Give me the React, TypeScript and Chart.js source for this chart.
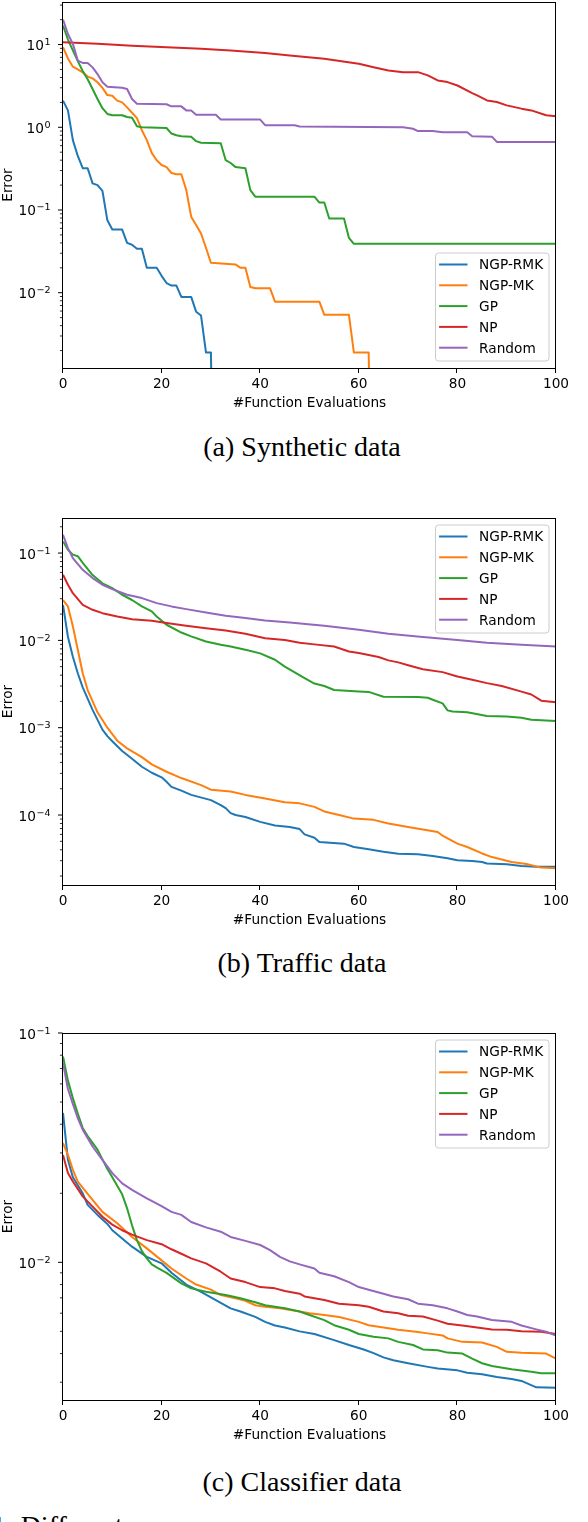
import React, { useEffect, useRef } from "react";
import { Chart, registerables } from "chart.js";

Chart.register(...registerables);

type Pt = [number, number];

const seriesNames = ["NGP-RMK", "NGP-MK", "GP", "NP", "Random"];
const seriesColors = ["#1f77b4", "#ff7f0e", "#2ca02c", "#d62728", "#9467bd"];
const xTickValues = [0, 20, 40, 60, 80, 100];
const xTitle = "#Function Evaluations";
const yTitle = "Error";

// (a) Synthetic data
const synthRmk: Pt[] = [
  [0, 2.1], [1, 1.6], [2, 0.7], [3, 0.45], [4, 0.32], [5, 0.32], [6, 0.21], [7, 0.2], [8, 0.17],
  [9, 0.075], [10, 0.058], [12, 0.058], [13, 0.04], [14, 0.038], [15, 0.034], [16, 0.034],
  [17, 0.02], [19, 0.02], [20, 0.016], [21, 0.0131], [22, 0.0122], [23, 0.0122], [24, 0.0089],
  [26, 0.0089], [27, 0.0059], [28, 0.0053], [29, 0.0019], [30, 0.0019], [31, 0.000001],
];
const synthMk: Pt[] = [
  [0, 9.3], [1, 6.8], [2, 5.4], [3, 5.0], [4, 4.6], [5, 4.1], [6, 3.9], [7, 3.5], [8, 3.0],
  [9, 2.45], [10, 2.4], [11, 2.1], [12, 2.0], [13, 1.74], [14, 1.5], [15, 1.29], [16, 0.92],
  [17, 0.7], [18, 0.49], [19, 0.4], [20, 0.35], [21, 0.33], [22, 0.28], [23, 0.27], [24, 0.27],
  [25, 0.175], [26, 0.083], [27, 0.066], [28, 0.052], [29, 0.035], [30, 0.023], [35, 0.022],
  [36, 0.02], [37, 0.02], [38, 0.0117], [39, 0.0113], [42, 0.0113], [43, 0.0078], [52, 0.0078],
  [53, 0.0054], [58, 0.0054], [59, 0.0019], [62, 0.0019], [63, 0.000001],
];
const synthGp: Pt[] = [
  [0, 17], [1, 11.5], [2, 8.5], [3, 6.3], [4, 4.8], [5, 3.8], [6, 2.9], [7, 2.2], [8, 1.7],
  [9, 1.45], [10, 1.4], [12, 1.4], [13, 1.33], [14, 1.3], [15, 1.03], [16, 1.0], [21, 0.98],
  [22, 0.84], [23, 0.8], [24, 0.78], [26, 0.77], [27, 0.68], [28, 0.65], [32, 0.64], [33, 0.4],
  [34, 0.37], [35, 0.33], [37, 0.32], [38, 0.174], [39, 0.145], [51, 0.145], [52, 0.123],
  [53, 0.123], [54, 0.079], [57, 0.079], [58, 0.046], [59, 0.039], [100, 0.039],
];
const synthNp: Pt[] = [
  [0, 10.7], [7, 10.2], [14, 9.7], [21, 9.3], [28, 8.9], [34, 8.5], [41, 7.9], [46, 7.36],
  [53, 6.73], [60, 5.85], [63, 5.33], [66, 4.87], [69, 4.64], [72, 4.64], [74, 4.24], [76, 3.68],
  [78, 3.52], [80, 3.2], [83, 2.59], [84, 2.43], [86, 2.11], [88, 2.02], [90, 1.84], [93, 1.68],
  [95, 1.6], [98, 1.4], [100, 1.36],
];
const synthRandom: Pt[] = [
  [0, 20], [1, 13.4], [2, 10.2], [3, 6.4], [4, 6.0], [5, 6.0], [6, 5.3], [7, 4.4], [8, 3.5],
  [9, 3.1], [12, 3.0], [13, 2.9], [14, 2.2], [15, 1.93], [21, 1.9], [22, 1.79], [24, 1.79],
  [25, 1.6], [26, 1.6], [27, 1.42], [31, 1.42], [32, 1.24], [40, 1.24], [41, 1.06], [47, 1.06],
  [48, 1.02], [69, 1.0], [71, 0.96], [72, 0.9], [75, 0.9], [77, 0.87], [82, 0.87], [83, 0.78],
  [87, 0.77], [88, 0.665], [100, 0.665],
];

// (b) Traffic data
const trafficRmk: Pt[] = [
  [0, 0.0255], [1, 0.011], [2, 0.0065], [3, 0.0042], [4, 0.0029], [6, 0.0016], [8, 0.00095],
  [9, 0.0008], [10, 0.0007], [12, 0.00054], [14, 0.00044], [16, 0.000357], [18, 0.000305],
  [20, 0.00027], [21, 0.00024], [22, 0.00021], [24, 0.00019], [26, 0.00017], [30, 0.000148],
  [32, 0.00013], [33, 0.00012], [34, 0.000105], [35, 0.0001], [37, 0.000095], [40, 0.0000835],
  [43, 0.000076], [46, 0.000073], [48, 0.000069], [49, 0.00006], [51, 0.000055], [52, 0.000049],
  [57, 0.000047], [59, 0.000043], [62, 0.0000405], [65, 0.000038], [68, 0.000036],
  [72, 0.0000355], [75, 0.000034], [78, 0.000032], [80, 0.0000304], [83, 0.0000297],
  [85, 0.000029], [86, 0.0000279], [90, 0.0000273], [93, 0.000026], [96, 0.0000255],
  [100, 0.0000255],
];
const trafficMk: Pt[] = [
  [0, 0.029], [1, 0.0245], [2, 0.0145], [3, 0.0078], [4, 0.0042], [5, 0.0027], [7, 0.0015],
  [9, 0.001], [11, 0.00071], [13, 0.00058], [16, 0.00046], [18, 0.00038], [21, 0.000313],
  [24, 0.000265], [28, 0.00022], [30, 0.000195], [34, 0.000186], [37, 0.00017], [41, 0.000155],
  [45, 0.00014], [48, 0.000136], [51, 0.000124], [53, 0.00011], [56, 0.0001], [59, 0.000091],
  [63, 0.000088], [66, 0.00008], [70, 0.000073], [73, 0.0000684], [76, 0.000064],
  [77, 0.000058], [80, 0.000047], [82, 0.000043], [85, 0.0000363], [87, 0.000033],
  [91, 0.000029], [94, 0.0000275], [97, 0.000025], [100, 0.0000245],
];
const trafficGp: Pt[] = [
  [0, 0.136], [1, 0.109], [2, 0.096], [3, 0.092], [4, 0.077], [6, 0.056], [8, 0.045],
  [10, 0.0397], [12, 0.0333], [14, 0.029], [16, 0.0245], [18, 0.0215], [19, 0.0188],
  [21, 0.0151], [24, 0.0123], [26, 0.0111], [29, 0.0097], [32, 0.0089], [34, 0.0085],
  [37, 0.0078], [40, 0.0071], [43, 0.006], [45, 0.005], [47, 0.0043], [49, 0.0037],
  [51, 0.0032], [53, 0.003], [55, 0.0027], [60, 0.0026], [62, 0.00257], [65, 0.00226],
  [72, 0.00224], [74, 0.0022], [75, 0.00209], [77, 0.0019], [78, 0.00158], [79, 0.00153],
  [82, 0.0015], [86, 0.00136], [90, 0.00134], [93, 0.0013], [95, 0.00123], [100, 0.00119],
];
const trafficNp: Pt[] = [
  [0, 0.0565], [1, 0.0433], [2, 0.0347], [4, 0.0255], [6, 0.0224], [8, 0.0205], [11, 0.0188],
  [14, 0.0175], [18, 0.0168], [21, 0.0158], [25, 0.0147], [29, 0.0138], [33, 0.013],
  [37, 0.0119], [41, 0.0106], [45, 0.0101], [48, 0.0094], [51, 0.009], [55, 0.0085],
  [58, 0.00745], [60, 0.00715], [64, 0.00645], [66, 0.0059], [68, 0.0056], [70, 0.0052],
  [73, 0.00468], [77, 0.00433], [80, 0.00385], [83, 0.00354], [86, 0.00324], [89, 0.003],
  [93, 0.00259], [95, 0.0024], [97, 0.00204], [100, 0.00196],
];
const trafficRandom: Pt[] = [
  [0, 0.162], [1, 0.114], [2, 0.0877], [4, 0.0643], [6, 0.0517], [8, 0.0433], [10, 0.0386],
  [13, 0.0333], [16, 0.0305], [19, 0.0267], [22, 0.0245], [25, 0.0228], [29, 0.0209],
  [33, 0.0191], [37, 0.018], [41, 0.0169], [46, 0.016], [53, 0.0147], [60, 0.0132],
  [66, 0.0119], [73, 0.0109], [80, 0.0101], [86, 0.0094], [93, 0.0089], [100, 0.0085],
];

// (c) Classifier data
const classRmk: Pt[] = [
  [0, 0.0448], [1, 0.028], [2, 0.0235], [4, 0.02], [5, 0.0178], [7, 0.0161], [9, 0.0147],
  [10, 0.0138], [12, 0.0127], [14, 0.0117], [17, 0.01057], [20, 0.0099], [22, 0.009],
  [25, 0.008], [28, 0.00744], [31, 0.00685], [34, 0.0063], [36, 0.0061], [39, 0.00578],
  [41, 0.0055], [43, 0.0053], [45, 0.0052], [48, 0.005], [51, 0.00487], [55, 0.00458],
  [58, 0.00436], [61, 0.00417], [63, 0.00402], [65, 0.00385], [67, 0.00374], [70, 0.00363],
  [74, 0.0035], [76, 0.00344], [80, 0.00338], [82, 0.0033], [85, 0.00325], [88, 0.00316],
  [91, 0.0031], [93, 0.00304], [96, 0.00285], [100, 0.00284],
];
const classMk: Pt[] = [
  [0, 0.0331], [1, 0.0294], [2, 0.0253], [3, 0.0225], [5, 0.0199], [8, 0.0166], [11, 0.0148],
  [14, 0.0129], [17, 0.0115], [20, 0.0102], [22, 0.0094], [25, 0.0085], [27, 0.008],
  [30, 0.0076], [32, 0.0072], [35, 0.00697], [37, 0.0068], [39, 0.0065], [41, 0.0064],
  [44, 0.0063], [48, 0.0061], [50, 0.006], [53, 0.00589], [56, 0.00578], [60, 0.0055],
  [62, 0.00532], [65, 0.0052], [68, 0.00508], [72, 0.00497], [74, 0.0049], [77, 0.0048],
  [78, 0.00466], [81, 0.0045], [85, 0.00447], [88, 0.00428], [90, 0.00407], [93, 0.00403],
  [98, 0.004], [100, 0.0038],
];
const classGp: Pt[] = [
  [0, 0.079], [1, 0.062], [2, 0.052], [3, 0.0445], [4, 0.0385], [5, 0.0355], [7, 0.031],
  [9, 0.0255], [10, 0.0235], [12, 0.0198], [13, 0.0172], [14, 0.0145], [15, 0.0125],
  [16, 0.0112], [17, 0.0104], [18, 0.0098], [19, 0.0095], [21, 0.009], [24, 0.0081],
  [26, 0.0077], [29, 0.00744], [33, 0.0072], [36, 0.00697], [39, 0.0067], [41, 0.0065],
  [45, 0.0063], [48, 0.0061], [50, 0.00589], [53, 0.0056], [55, 0.00532], [58, 0.00508],
  [60, 0.00487], [63, 0.00474], [66, 0.00466], [68, 0.0045], [71, 0.00436], [73, 0.00417],
  [76, 0.00414], [78, 0.00404], [81, 0.004], [83, 0.0038], [85, 0.00363], [87, 0.00353],
  [91, 0.00342], [95, 0.00333], [97, 0.00328], [100, 0.00328],
];
const classNp: Pt[] = [
  [0, 0.0294], [1, 0.0245], [2, 0.0225], [4, 0.0194], [6, 0.0175], [8, 0.0158], [10, 0.0146],
  [12, 0.0138], [14, 0.0132], [17, 0.0125], [20, 0.012], [22, 0.0114], [24, 0.0109],
  [26, 0.0104], [29, 0.0099], [32, 0.0091], [34, 0.0085], [37, 0.0082], [40, 0.0078],
  [43, 0.0077], [45, 0.0075], [48, 0.0073], [49, 0.0071], [53, 0.00685], [56, 0.0066],
  [60, 0.0065], [62, 0.0064], [65, 0.0061], [68, 0.006], [70, 0.00585], [73, 0.0058],
  [76, 0.00557], [78, 0.0054], [81, 0.0053], [84, 0.0052], [87, 0.0051], [90, 0.00508],
  [93, 0.005], [97, 0.00498], [100, 0.00487],
];
const classRandom: Pt[] = [
  [0, 0.074], [1, 0.057], [2, 0.049], [3, 0.0425], [4, 0.0379], [6, 0.032], [8, 0.028],
  [10, 0.0245], [12, 0.0221], [14, 0.0207], [17, 0.019], [20, 0.0176], [22, 0.0166],
  [24, 0.0161], [26, 0.015], [29, 0.0142], [32, 0.0136], [34, 0.0129], [37, 0.0124],
  [40, 0.0119], [42, 0.0113], [44, 0.01057], [46, 0.0101], [48, 0.0098], [51, 0.0094],
  [52, 0.009], [55, 0.0087], [58, 0.0082], [60, 0.0078], [62, 0.0076], [65, 0.0073],
  [67, 0.0071], [70, 0.0069], [72, 0.0066], [75, 0.0065], [78, 0.0063], [80, 0.0061],
  [82, 0.00589], [84, 0.0058], [87, 0.0056], [91, 0.0055], [93, 0.0053], [96, 0.0051],
  [98, 0.00498], [100, 0.00479],
];

const panelSeries: Pt[][][] = [
  [synthRmk, synthMk, synthGp, synthNp, synthRandom],
  [trafficRmk, trafficMk, trafficGp, trafficNp, trafficRandom],
  [classRmk, classMk, classGp, classNp, classRandom],
];
const panelCaptions = ["(a) Synthetic data", "(b) Traffic data", "(c) Classifier data"];
const panelYMin = [0.00123, 0.0000158, 0.00251];
const panelYMax = [32.7, 0.252, 0.1];

// layout (pixels)
const PAGE_W = 588;
const PAGE_H = 1522;
const PLOT_LEFT = 63;
const PLOT_RIGHT = 556;
const panelPlotTop = [2, 518, 1033];
const panelPlotBottom = [368, 885, 1400];
const panelLegendAtTop = [false, true, true];
const panelCaptionBaseline = [456, 972, 1491];
const X_AXIS_H = 50;
const TOP_PAD = 12;
const FS = 13.7;
const SANS = "'DejaVu Sans', sans-serif";
const SERIF = "'Liberation Serif', 'Times New Roman', serif";

const mplPlugin = {
  id: "mplAxes",
  afterDraw(chart: any) {
    const opts = chart.options.plugins.mplAxes || {};
    const { ctx, chartArea: a } = chart;
    const xs = chart.scales.x;
    const ys = chart.scales.y;
    const L = Math.round(a.left) - 0.5;
    const R = Math.round(a.right) - 0.5;
    const T = Math.round(a.top) + 0.5;
    const B = Math.round(a.bottom) + 0.5;
    ctx.save();
    ctx.strokeStyle = "#000";
    ctx.lineWidth = 1;
    ctx.strokeRect(L, T, R - L, B - T);

    // x ticks
    ctx.beginPath();
    for (const v of xTickValues) {
      const p = Math.round(xs.getPixelForValue(v)) - 0.5;
      ctx.moveTo(p, B);
      ctx.lineTo(p, B + 4.5);
    }
    ctx.stroke();

    // y ticks (log)
    const eLo = Math.floor(Math.log10(ys.min)) - 1;
    const eHi = Math.ceil(Math.log10(ys.max)) + 1;
    for (let e = eLo; e <= eHi; e++) {
      for (let m = 1; m <= 9; m++) {
        const v = m * Math.pow(10, e);
        if (v < ys.min * (1 - 1e-6) || v > ys.max * (1 + 1e-6)) continue;
        const p = ys.getPixelForValue(v);
        const major = m === 1;
        ctx.beginPath();
        ctx.lineWidth = major ? 1 : 0.8;
        ctx.moveTo(L, p);
        ctx.lineTo(L - (major ? 4.5 : 2.6), p);
        ctx.stroke();
        if (major) {
          const expText = e < 0 ? "\u2212" + String(-e) : String(e);
          ctx.fillStyle = "#000";
          ctx.textAlign = "right";
          ctx.textBaseline = "alphabetic";
          ctx.font = `${FS * 0.7}px ${SANS}`;
          const ew = ctx.measureText(expText).width;
          const right = a.left - 12.5;
          ctx.fillText(expText, right, p + 0.5);
          ctx.font = `${FS}px ${SANS}`;
          ctx.fillText("10", right - ew - 0.5, p + 5.5);
        }
      }
    }

    // legend
    const boxW = 113.5;
    const boxH = 108;
    const bx = a.right - 7 - boxW;
    const by = opts.legendAtTop ? a.top + 7 : a.bottom - 7 - boxH;
    ctx.beginPath();
    ctx.roundRect(bx, by, boxW, boxH, 3);
    ctx.fillStyle = "rgba(255,255,255,0.8)";
    ctx.fill();
    ctx.strokeStyle = "#cccccc";
    ctx.lineWidth = 1;
    ctx.stroke();
    ctx.font = `${FS}px ${SANS}`;
    ctx.textAlign = "left";
    ctx.textBaseline = "alphabetic";
    seriesNames.forEach((name, i) => {
      const cy = by + 11.5 + i * 20.8;
      ctx.beginPath();
      ctx.strokeStyle = seriesColors[i];
      ctx.lineWidth = 2;
      ctx.moveTo(bx + 3.6, cy);
      ctx.lineTo(bx + 32, cy);
      ctx.stroke();
      ctx.fillStyle = "#000";
      ctx.fillText(name, bx + 43.6, cy + 4.9);
    });
    ctx.restore();
  },
};

function Panel({ idx }: { idx: number }) {
  const ref = useRef<HTMLCanvasElement | null>(null);
  const plotTop = panelPlotTop[idx];
  const plotBottom = panelPlotBottom[idx];
  const canvasTop = plotTop - TOP_PAD;
  const canvasH = plotBottom - canvasTop + X_AXIS_H;

  useEffect(() => {
    if (!ref.current) return;
    const datasets = panelSeries[idx].map((pts, i) => ({
      label: seriesNames[i],
      data: pts.map(([x, y]) => ({ x, y })),
      borderColor: seriesColors[i],
      backgroundColor: seriesColors[i],
      borderWidth: 2,
      pointRadius: 0,
      tension: 0,
      borderJoinStyle: "round" as const,
      order: seriesNames.length - 1 - i,
    }));
    const chart = new Chart(ref.current, {
      type: "line",
      data: { datasets },
      plugins: [mplPlugin as any],
      options: {
        responsive: false,
        animation: false,
        parsing: false as any,
        layout: { padding: { top: TOP_PAD, right: PAGE_W - PLOT_RIGHT, left: 0, bottom: 0 } },
        plugins: {
          legend: { display: false },
          tooltip: { enabled: false },
          mplAxes: { legendAtTop: panelLegendAtTop[idx] },
        } as any,
        scales: {
          x: {
            type: "linear",
            min: 0,
            max: 100,
            grid: { display: false, drawTicks: false },
            border: { display: false },
            afterBuildTicks: (s: any) => {
              s.ticks = xTickValues.map((v) => ({ value: v }));
            },
            afterFit: (s: any) => {
              s.height = X_AXIS_H;
            },
            ticks: {
              autoSkip: false,
              maxRotation: 0,
              padding: 8.2,
              color: "#000",
              font: { family: SANS, size: FS },
            },
            title: {
              display: true,
              text: xTitle,
              color: "#000",
              font: { family: SANS, size: FS },
              padding: { top: 0, bottom: 6.8 },
            },
          },
          y: {
            type: "logarithmic",
            min: panelYMin[idx],
            max: panelYMax[idx],
            grid: { display: false, drawTicks: false },
            border: { display: false },
            ticks: { display: false },
            afterFit: (s: any) => {
              s.width = PLOT_LEFT;
            },
            title: {
              display: true,
              text: yTitle,
              color: "#000",
              font: { family: SANS, size: FS },
              padding: { top: 0, bottom: 0 },
            },
          },
        },
      } as any,
    });
    return () => chart.destroy();
  }, [idx]);

  return (
    <canvas
      ref={ref}
      width={PAGE_W}
      height={canvasH}
      style={{ position: "absolute", left: 0, top: canvasTop, width: PAGE_W, height: canvasH, display: "block" }}
    />
  );
}

export default function App() {
  return (
    <div
      style={{
        position: "absolute",
        left: 0,
        top: 0,
        width: PAGE_W,
        height: PAGE_H,
        overflow: "hidden",
        background: "#fff",
      }}
    >
      {panelCaptions.map((_, i) => (
        <Panel key={"p" + i} idx={i} />
      ))}
      {panelCaptions.map((c, i) => (
        <div
          key={"c" + i}
          style={{
            position: "absolute",
            left: 0,
            width: 604,
            top: panelCaptionBaseline[i] - 23.4,
            textAlign: "center",
            fontFamily: SERIF,
            fontSize: 28,
            lineHeight: "28px",
            whiteSpace: "nowrap",
            color: "#000",
          }}
        >
          {c}
        </div>
      ))}
      <div
        style={{
          position: "absolute",
          left: -59.5,
          top: 1535 - 23.4,
          fontFamily: SERIF,
          fontSize: 28,
          lineHeight: "28px",
          whiteSpace: "nowrap",
          color: "#000",
        }}
      >
        Fig. 1: Different
      </div>
    </div>
  );
}
